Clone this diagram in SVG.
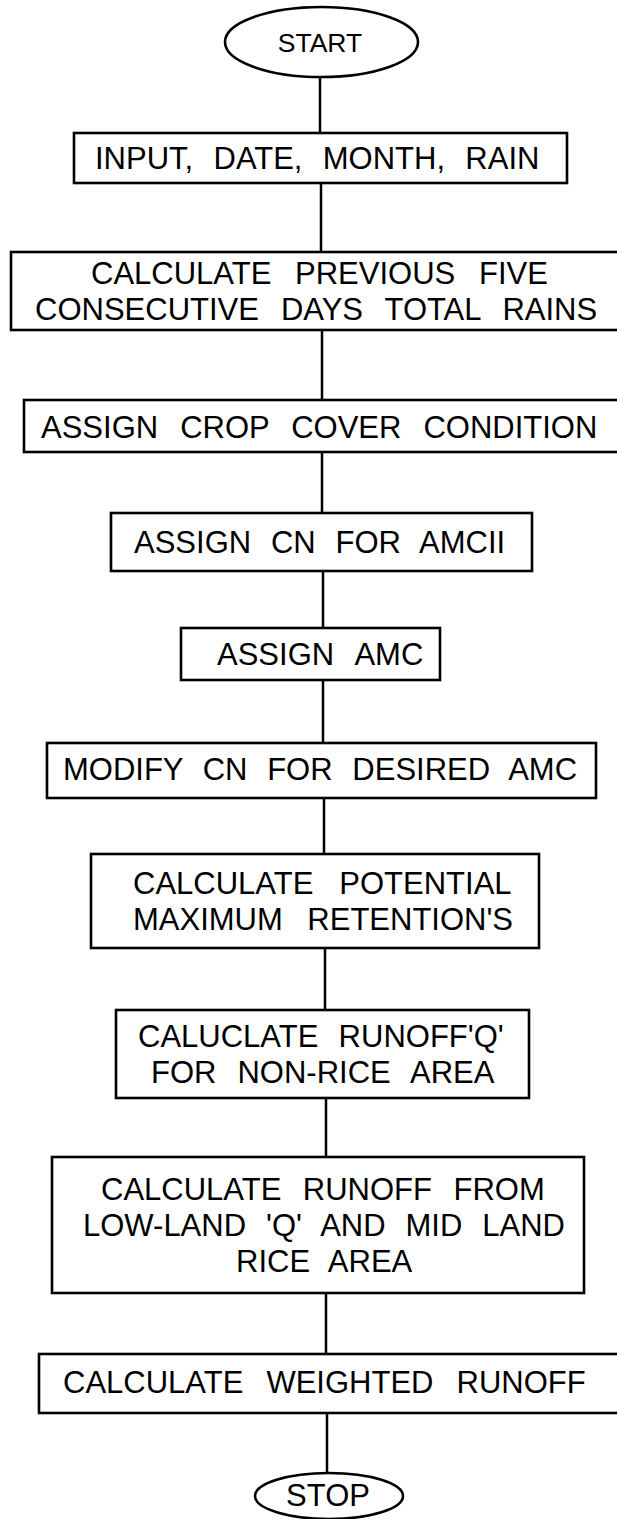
<svg xmlns="http://www.w3.org/2000/svg" width="617" height="1519" viewBox="0 0 617 1519">
  <style>
    .box { fill: #ffffff; stroke: #000000; stroke-width: 2.6; }
    .term { fill: #ffffff; stroke: #000000; stroke-width: 2.6; }
    .lbl { font-family: "Liberation Sans", Arial, sans-serif; font-size: 31px; fill: #000000; }
    .conn line { stroke: #000000; stroke-width: 2.5; }
  </style>
  <rect width="617" height="1519" fill="#ffffff"/>

  <!-- flow connectors -->
  <g id="connectors" class="conn">
    <line x1="320" y1="77" x2="320" y2="133"/>
    <line x1="321" y1="183" x2="321" y2="252"/>
    <line x1="322" y1="330" x2="322" y2="400"/>
    <line x1="322" y1="452" x2="322" y2="513"/>
    <line x1="323" y1="571" x2="323" y2="628"/>
    <line x1="323" y1="680" x2="323" y2="743"/>
    <line x1="324" y1="798" x2="324" y2="854"/>
    <line x1="325" y1="948" x2="325" y2="1010"/>
    <line x1="326" y1="1098" x2="326" y2="1157"/>
    <line x1="326" y1="1293" x2="326" y2="1354"/>
    <line x1="327" y1="1413" x2="327" y2="1473"/>
  </g>

  <g id="start">
    <ellipse class="term" cx="321.5" cy="42" rx="96.5" ry="35"/>
    <text class="lbl" x="320" y="51.5" text-anchor="middle" style="font-size:26.5px">START</text>
  </g>

  <g id="input">
    <rect class="box" x="74" y="133" width="493" height="50"/>
    <text class="lbl" x="95" y="169" word-spacing="11.7">INPUT, DATE, MONTH, RAIN</text>
  </g>

  <g id="previous-rains">
    <rect class="box" x="11" y="252" width="612" height="78"/>
    <text class="lbl" x="91" y="284" word-spacing="15.1">CALCULATE PREVIOUS FIVE</text>
    <text class="lbl" x="35" y="320" word-spacing="13.4">CONSECUTIVE DAYS TOTAL RAINS</text>
  </g>

  <g id="crop-cover">
    <rect class="box" x="24" y="400" width="599" height="52"/>
    <text class="lbl" x="41" y="438" word-spacing="13.4">ASSIGN CROP COVER CONDITION</text>
  </g>

  <g id="cn-amc2">
    <rect class="box" x="111" y="513" width="421" height="58"/>
    <text class="lbl" x="134" y="553" word-spacing="11.2">ASSIGN CN FOR AMCII</text>
  </g>

  <g id="assign-amc">
    <rect class="box" x="181" y="628" width="259" height="52"/>
    <text class="lbl" x="217" y="665" word-spacing="13.4">ASSIGN AMC</text>
  </g>

  <g id="modify-cn">
    <rect class="box" x="47" y="743" width="549" height="55"/>
    <text class="lbl" x="63" y="780" word-spacing="11.1">MODIFY CN FOR DESIRED AMC</text>
  </g>

  <g id="retention">
    <rect class="box" x="91" y="854" width="448" height="94"/>
    <text class="lbl" x="133" y="894" word-spacing="17.4">CALCULATE POTENTIAL</text>
    <text class="lbl" x="133" y="930" word-spacing="15.9">MAXIMUM RETENTION'S</text>
  </g>

  <g id="runoff-non-rice">
    <rect class="box" x="116" y="1010" width="413" height="88"/>
    <text class="lbl" x="138" y="1047" word-spacing="11.7">CALUCLATE RUNOFF'Q'</text>
    <text class="lbl" x="151" y="1083" word-spacing="12.4">FOR NON-RICE AREA</text>
  </g>

  <g id="runoff-rice">
    <rect class="box" x="52" y="1157" width="532" height="136"/>
    <text class="lbl" x="101" y="1200" word-spacing="12.9">CALCULATE RUNOFF FROM</text>
    <text class="lbl" x="83" y="1236" word-spacing="11.3">LOW-LAND 'Q' AND MID LAND</text>
    <text class="lbl" x="236" y="1272" word-spacing="10.9">RICE AREA</text>
  </g>

  <g id="weighted-runoff">
    <rect class="box" x="39" y="1354" width="584" height="59"/>
    <text class="lbl" x="63" y="1393" word-spacing="14.5">CALCULATE WEIGHTED RUNOFF</text>
  </g>

  <g id="stop">
    <ellipse class="term" cx="329" cy="1496" rx="74" ry="23"/>
    <text class="lbl" x="328" y="1506" text-anchor="middle">STOP</text>
  </g>
</svg>
